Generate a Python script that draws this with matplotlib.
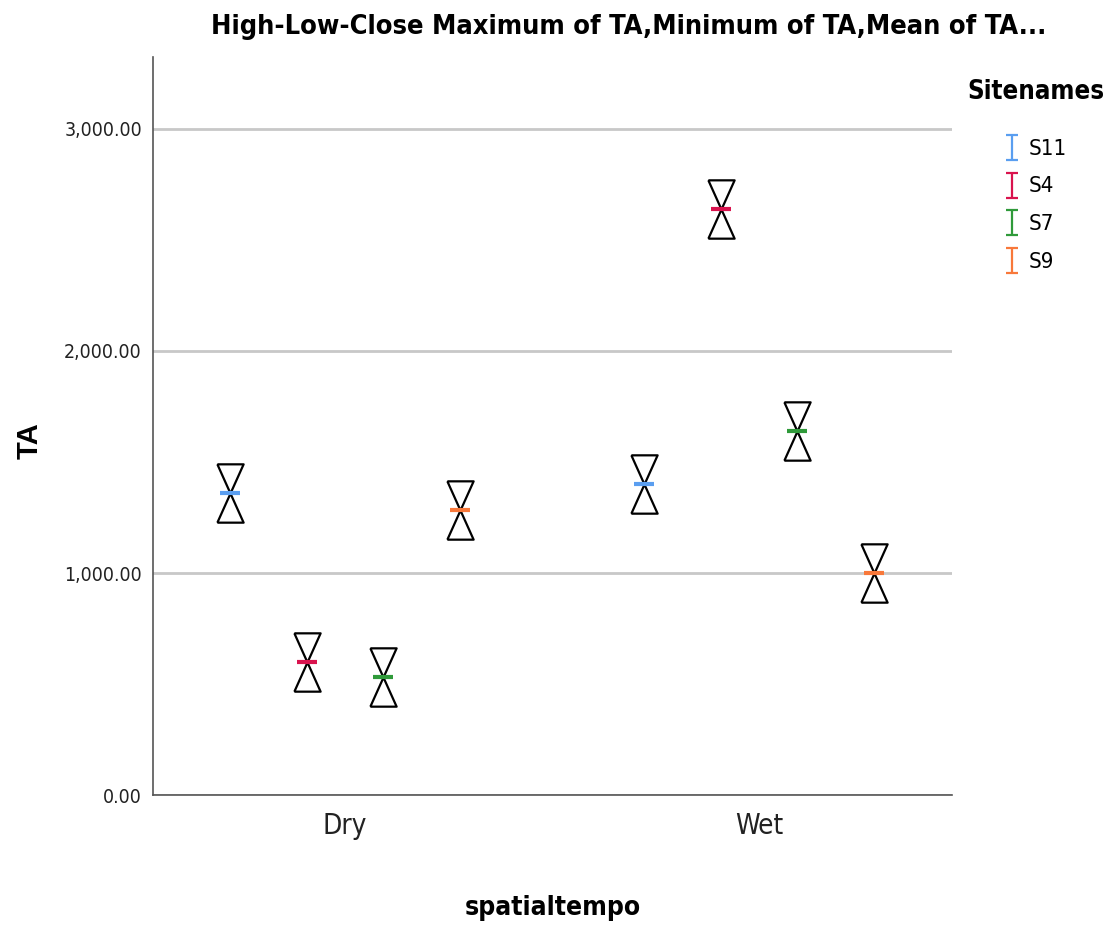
import numpy as np
import matplotlib
matplotlib.use("Agg")
import matplotlib.pyplot as plt
from matplotlib.path import Path
from matplotlib.lines import Line2D

# data (max = min = mean for every group)
categories = ["Dry", "Wet"]
sites = ["S11", "S4", "S7", "S9"]
colors = ["#5a9ef0", "#d9134e", "#2f9a3a", "#f8783a"]
ta_mean = {
    "S11": [1360, 1400],
    "S4": [600, 2638],
    "S7": [530, 1640],
    "S9": [1283, 1001],
}
ta_max = {k: list(v) for k, v in ta_mean.items()}
ta_min = {k: list(v) for k, v in ta_mean.items()}

cond = dict(family="DejaVu Sans", stretch="condensed")

# hourglass halves: apex on the value, base above (high) / below (low)
M, L = Path.MOVETO, Path.LINETO
high_mk = Path([(-0.45, 1), (0.45, 1), (0, 0), (-0.45, 1)], [M, L, L, L])
low_mk = Path([(-0.45, -1), (0.45, -1), (0, 0), (-0.45, -1)], [M, L, L, L])
i_mk = Path([(-0.25, 0.5), (0.25, 0.5), (0, 0.5), (0, -0.5), (-0.25, -0.5), (0.25, -0.5)],
            [M, L, M, L, M, L])

fig = plt.figure(figsize=(11.17, 9.30), dpi=100)
ax = fig.add_axes([0.137, 0.145, 0.715, 0.794])

x = np.arange(len(categories))
step = 0.185
for i, s in enumerate(sites):
    xs = x + (i - 1.5) * step
    ax.plot(xs, ta_max[s], ls="none", marker=high_mk, ms=42, mfc="none",
            mec="black", mew=1.6, zorder=3)
    ax.plot(xs, ta_min[s], ls="none", marker=low_mk, ms=42, mfc="none",
            mec="black", mew=1.6, zorder=3)
    ax.plot(xs, ta_mean[s], ls="none", marker="_", ms=15, mew=3,
            color=colors[i], zorder=4)

ax.set_xlim(-0.464, 1.466)
ax.set_ylim(0, 3324)
ax.set_yticks([0, 1000, 2000, 3000])
ax.set_yticklabels([f"{v:,.2f}" for v in [0, 1000, 2000, 3000]], fontsize=14, **cond)
ax.set_xticks(x)
ax.set_xticklabels(categories, fontsize=20, **cond)
ax.tick_params(axis="both", length=0, colors="#222222")
ax.tick_params(axis="x", pad=12)
ax.tick_params(axis="y", pad=8)
ax.grid(axis="y", color="#c8c8c8", lw=2)
ax.set_axisbelow(True)
for sp in ["top", "right"]:
    ax.spines[sp].set_visible(False)
for sp in ["left", "bottom"]:
    ax.spines[sp].set_color("#555555")
    ax.spines[sp].set_linewidth(1.2)

ax.set_ylabel("TA", family="Liberation Sans", fontsize=21, fontweight="bold")
ax.yaxis.set_label_coords(-0.137, 0.48)
ax.set_xlabel("spatialtempo", fontsize=19, fontweight="bold", labelpad=40, **cond)
fig.suptitle("High-Low-Close Maximum of TA,Minimum of TA,Mean of TA...", x=0.563, y=0.985,
             fontsize=19.5, fontweight="bold", **cond)

fig.text(0.866, 0.901, "Sitenames", fontsize=18.5, fontweight="bold", va="center", **cond)
handles = [Line2D([], [], ls="none", marker=i_mk, ms=18, mew=1.6, color=c) for c in colors]
fig.legend(handles, sites, loc="upper left", bbox_to_anchor=(0.8885, 0.863), frameon=False,
           prop={"family": "DejaVu Sans", "stretch": "condensed", "size": 16},
           handlelength=0.8, handletextpad=0.35, labelspacing=0.8, borderpad=0)

fig.savefig("out.png", dpi=100)
